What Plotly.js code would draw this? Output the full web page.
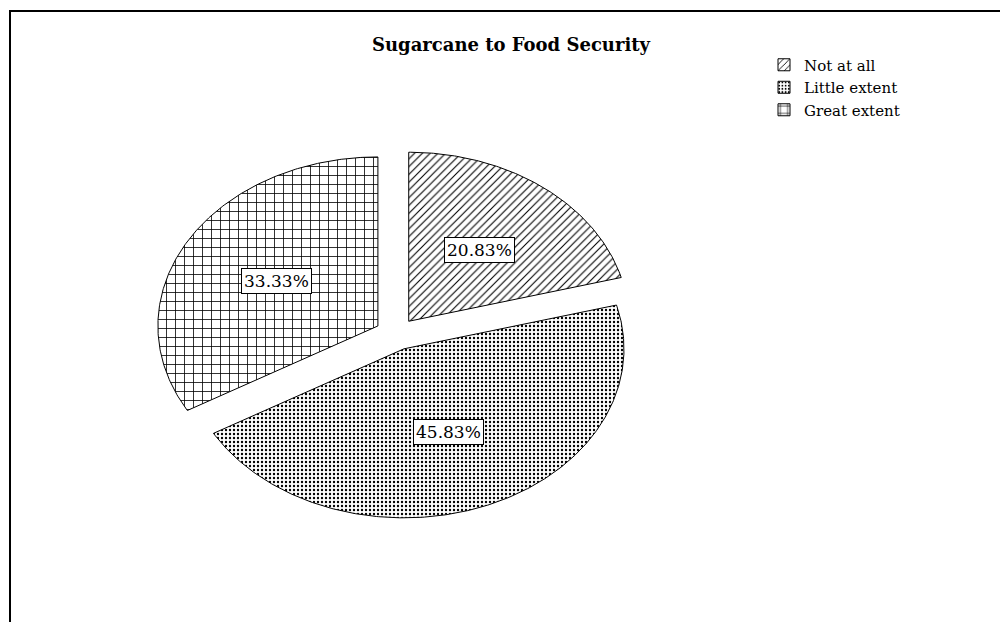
<!DOCTYPE html>
<html>
<head>
<meta charset="utf-8">
<script src="https://cdn.plot.ly/plotly-3.0.1.min.js"></script>
<style>
html,body{margin:0;padding:0;background:#ffffff;overflow:hidden;}
#chart{width:1000px;height:622px;}
</style>
</head>
<body>
<div id="chart"></div>
<script>
// ---- data ----
const categories = ['Not at all', 'Little extent', 'Great extent'];
const percents = [20.83, 45.83, 33.33];
const chartTitle = 'Sugarcane to Food Security';

// ---- styles ----
function patternFor(i) {
  if (i === 0) return {shape: '/', size: 5.5, solidity: 0.2, fgcolor: '#000', bgcolor: '#fff', fillmode: 'replace'};
  if (i === 1) return {shape: '.', size: 4, solidity: 0.28, fgcolor: '#000', bgcolor: '#fff', fillmode: 'replace'};
  return {shape: '+', size: 9, solidity: 0.17, fgcolor: '#000', bgcolor: '#fff', fillmode: 'replace'};
}
const FONT = 'DejaVu Serif';
const pull = 0.095;   // fraction of radius each slice is exploded
const labelR = 0.53;  // label distance along slice bisector

const total = percents.reduce((a, b) => a + b, 0);
const traces = [];
const annotations = [];
let cum = 0;
categories.forEach((cat, i) => {
  const a0 = cum / total * 2 * Math.PI;
  cum += percents[i];
  const a1 = cum / total * 2 * Math.PI;
  const mid = (a0 + a1) / 2;
  const ox = pull * Math.sin(mid), oy = pull * Math.cos(mid);
  const xs = [ox], ys = [oy];
  const n = Math.max(2, Math.ceil((a1 - a0) / (Math.PI / 360)));
  for (let k = 0; k <= n; k++) {
    const a = a0 + (a1 - a0) * k / n;
    xs.push(ox + Math.sin(a));
    ys.push(oy + Math.cos(a));
  }
  xs.push(ox); ys.push(oy);
  traces.push({
    type: 'scatter', mode: 'lines', x: xs, y: ys,
    fill: 'toself', fillcolor: '#ffffff', fillpattern: patternFor(i),
    line: {color: '#000', width: 1},
    showlegend: false, hoverinfo: 'skip', name: cat
  });
  annotations.push({
    x: (pull + labelR) * Math.sin(mid), y: (pull + labelR) * Math.cos(mid),
    xref: 'x', yref: 'y', showarrow: false,
    text: percents[i].toFixed(2) + '%',
    bgcolor: '#ffffff', bordercolor: '#000', borderwidth: 1, borderpad: 2,
    font: {family: FONT, size: 17, color: '#000'}
  });
});

// legend entries (patterned boxes)
categories.forEach((cat, i) => {
  traces.push({
    type: 'bar', x: [null], y: [null], name: cat,
    marker: {color: '#ffffff', line: {color: '#000', width: 1}, pattern: patternFor(i)},
    hoverinfo: 'skip', showlegend: true
  });
});

const layout = {
  width: 1000, height: 622,
  margin: {l: 0, r: 0, t: 0, b: 0, pad: 0},
  paper_bgcolor: '#ffffff', plot_bgcolor: '#ffffff',
  showlegend: true,
  title: {
    text: chartTitle, x: 0.511, xanchor: 'center', y: 0.9277, yanchor: 'middle',
    font: {family: FONT, size: 18, weight: 'bold', color: '#000'}
  },
  xaxis: {type: 'linear', range: [-1.8, 2.7455], visible: false, showgrid: false, zeroline: false, fixedrange: true},
  yaxis: {type: 'linear', range: [-1.704, 1.976], visible: false, showgrid: false, zeroline: false, fixedrange: true},
  legend: {
    x: 0.764, xanchor: 'left', y: 0.922, yanchor: 'top',
    font: {family: FONT, size: 15, color: '#000'},
    bgcolor: 'rgba(0,0,0,0)', borderwidth: 0, tracegroupgap: 0, itemwidth: 30
  },
  annotations: annotations,
  shapes: [
    {type: 'path', xref: 'paper', yref: 'paper', path: 'M 0.01 -0.01 L 0.01 0.9823 L 1.01 0.9823',
     fillcolor: 'rgba(0,0,0,0)', line: {color: '#000', width: 2}}
  ]
};

Plotly.newPlot('chart', traces, layout, {displayModeBar: false, staticPlot: true});
</script>
</body>
</html>
